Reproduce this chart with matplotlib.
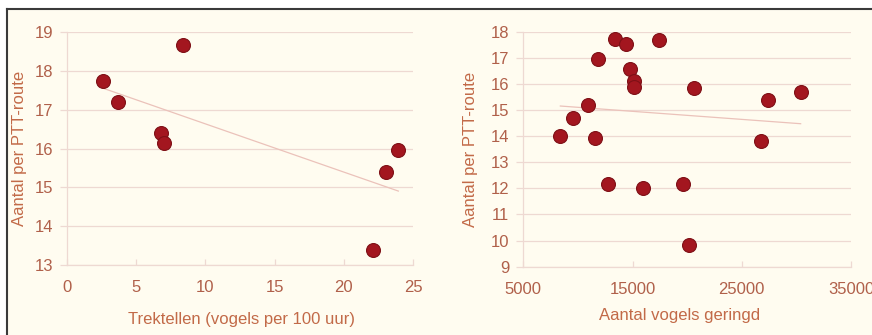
import numpy as np
import matplotlib
matplotlib.use("Agg")
import matplotlib.pyplot as plt
from matplotlib.patches import Rectangle
from matplotlib.lines import Line2D

plt.rcParams['font.family'] = ['Liberation Sans', 'DejaVu Sans']

# Left panel: migration counts vs. birds per PTT route
trektellen_x = [2.58, 3.71, 8.38, 6.79, 7.01, 22.13, 23.05, 23.94]
trektellen_y = [17.74, 17.20, 18.67, 16.40, 16.15, 13.38, 15.40, 15.95]

# Right panel: number of ringed birds vs. birds per PTT route
geringd_x = [8390, 9520, 10890, 11590, 11840, 12780, 13420, 14430, 14800, 15130,
             15160, 15930, 17420, 19620, 20200, 20600, 26730, 27400, 30390]
geringd_y = [14.02, 14.68, 15.18, 13.91, 16.94, 12.15, 17.72, 17.53, 16.56, 16.11,
             15.87, 12.00, 17.68, 12.15, 9.85, 15.83, 13.81, 15.40, 15.70]

left_xticks = [0, 5, 10, 15, 20, 25]
left_yticks = [13, 14, 15, 16, 17, 18, 19]
right_xticks = [5000, 15000, 25000, 35000]
right_yticks = [9, 10, 11, 12, 13, 14, 15, 16, 17, 18]

ylabel = "Aantal per PTT-route"
left_xlabel = "Trektellen (vogels per 100 uur)"
right_xlabel = "Aantal vogels geringd"

BG = "#FFFCF0"
GRID = "#EED9D2"
TICK_TXT = "#B0604A"
LABEL_TXT = "#C26A48"
DOT = "#A3161F"
DOT_EDGE = "#7E1016"
TREND = "#EBC2BA"
FS = 12

W, H = 872, 335
fig = plt.figure(figsize=(W / 100, H / 100), dpi=100, facecolor="white")

# cream panel with a dark frame on the top and left edges
fig.patches.append(Rectangle((7 / W, 0), 1 - 7 / W, 1 - 9 / H,
                             transform=fig.transFigure, facecolor=BG,
                             edgecolor="none", zorder=-10))
fig.lines.append(Line2D([7 / W, 1], [1 - 9 / H, 1 - 9 / H], transform=fig.transFigure,
                        color="#3A3A3A", lw=1.5, zorder=-5))
fig.lines.append(Line2D([7 / W, 7 / W], [0, 1 - 9 / H], transform=fig.transFigure,
                        color="#3A3A3A", lw=1.5, zorder=-5))

ax1 = fig.add_axes([67 / W, 1 - 265 / H, (413 - 67) / W, (265 - 32) / H])
ax2 = fig.add_axes([523.3 / W, 1 - 266.7 / H, (851 - 523.3) / W, (266.7 - 31.7) / H])


def style(ax, xticks, yticks):
    ax.set_facecolor("none")
    ax.set_xlim(xticks[0], xticks[-1])
    ax.set_ylim(yticks[0], yticks[-1])
    ax.set_xticks(xticks)
    ax.set_yticks(yticks)
    for s in ("top", "right"):
        ax.spines[s].set_visible(False)
    for s in ("left", "bottom"):
        ax.spines[s].set_color(GRID)
        ax.spines[s].set_linewidth(0.9)
    ax.grid(axis="y", color=GRID, lw=0.9)
    ax.set_axisbelow(True)
    ax.tick_params(axis="x", direction="in", length=4, color=GRID, width=0.9,
                   labelsize=FS, labelcolor=TICK_TXT, pad=11)
    ax.tick_params(axis="y", direction="out", length=5, color=GRID, width=0.9,
                   labelsize=FS, labelcolor=TICK_TXT, pad=5)


def scatter_with_trend(ax, x, y):
    x = np.asarray(x)
    y = np.asarray(y)
    slope, icpt = np.polyfit(x, y, 1)
    xs = np.array([x.min(), x.max()])
    ax.plot(xs, slope * xs + icpt, color=TREND, lw=0.9, zorder=2)
    ax.scatter(x, y, s=100, color=DOT, edgecolors=DOT_EDGE, linewidths=0.8,
               zorder=3, clip_on=False)


style(ax1, left_xticks, left_yticks)
scatter_with_trend(ax1, trektellen_x, trektellen_y)
ax1.set_xlabel(left_xlabel, fontsize=FS, color=LABEL_TXT)
ax1.set_ylabel(ylabel, fontsize=FS, color=LABEL_TXT)
ax1.xaxis.set_label_coords(0.503, -0.236)
ax1.yaxis.set_label_coords(-0.136, 0.5)
ax1.xaxis.label.set_va("center")
ax1.yaxis.label.set_va("center")

style(ax2, right_xticks, right_yticks)
scatter_with_trend(ax2, geringd_x, geringd_y)
ax2.set_xlabel(right_xlabel, fontsize=FS, color=LABEL_TXT)
ax2.set_ylabel(ylabel, fontsize=FS, color=LABEL_TXT)
ax2.xaxis.set_label_coords(0.478, -0.206)
ax2.yaxis.set_label_coords(-0.162, 0.5)
ax2.xaxis.label.set_va("center")
ax2.yaxis.label.set_va("center")

fig.savefig("out.png", dpi=100, facecolor="white")
